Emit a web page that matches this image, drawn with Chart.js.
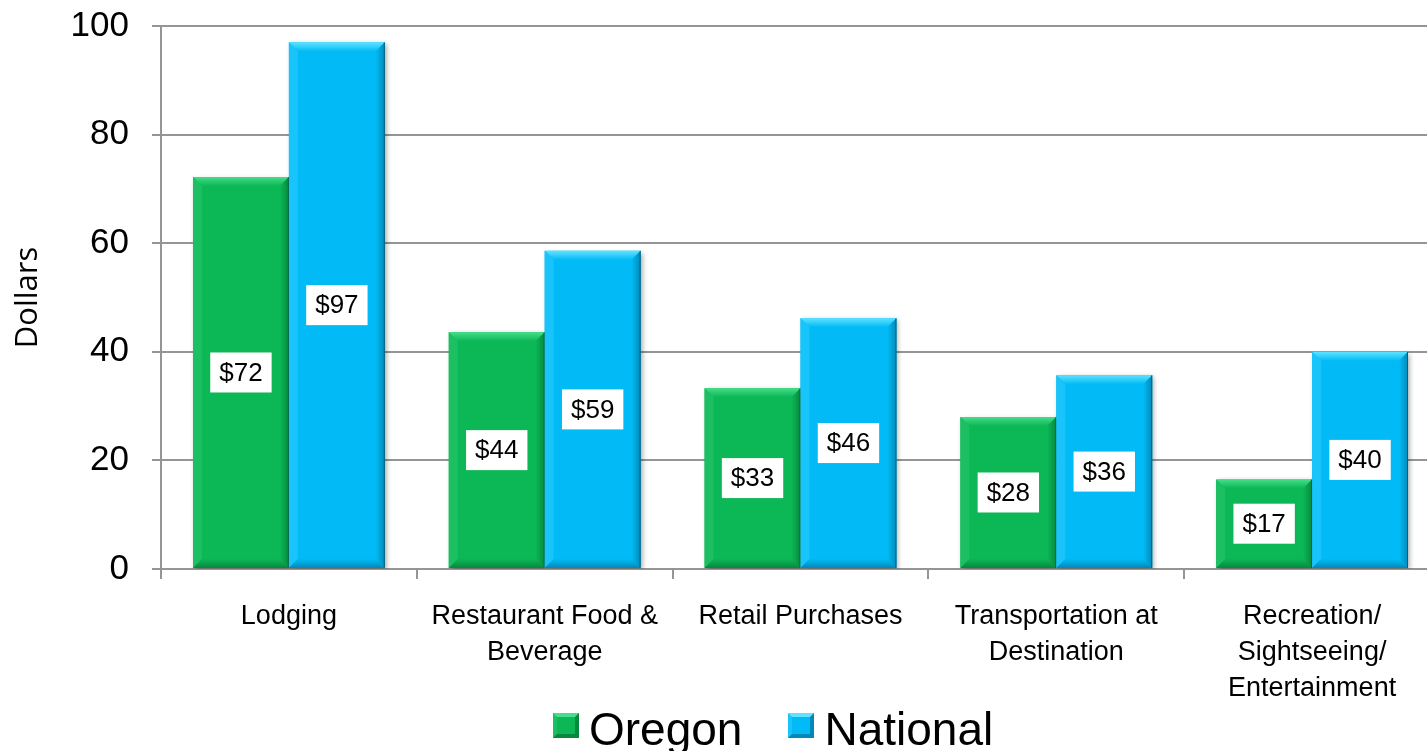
<!DOCTYPE html>
<html>
<head>
<meta charset="utf-8">
<script src="https://cdn.jsdelivr.net/npm/chart.js@4/dist/chart.umd.min.js"></script>
<style>
  html, body { margin: 0; padding: 0; background: #fff; overflow: hidden; }
  #wrap { position: relative; width: 1440px; height: 751px; }
  #legend { position: absolute; left: 553px; top: 706px; display: flex; font-family: "Liberation Sans", Arial, sans-serif; font-size: 46px; line-height: 46px; color: #000; }
  .item { display: flex; margin-right: 46px; }
  .box { width: 26px; height: 25px; margin-top: 7px; margin-right: 10px; box-sizing: border-box; }
</style>
</head>
<body>
<div id="wrap">
  <canvas id="myChart" width="1440" height="751"></canvas>
  <div id="legend"></div>
</div>
<script>
const categories = [
  'Lodging',
  ['Restaurant Food &', 'Beverage'],
  'Retail Purchases',
  ['Transportation at', 'Destination'],
  ['Recreation/', 'Sightseeing/', 'Entertainment']
];
const seriesNames = ['Oregon', 'National'];
const oregon = [72.2, 43.6, 33.3, 28.0, 16.5];
const national = [97.0, 58.6, 46.2, 35.7, 40.0];
const yTicks = [0, 20, 40, 60, 80, 100];

const green = { body: '#0cb755', top: '#45de8a', right: '#06893f', left: '#1cc063' };
const blue = { body: '#02bbf6', top: '#5fe3ff', right: '#0089b8', left: '#18c4fa' };

const ctx = document.getElementById('myChart').getContext('2d');

// bevel look + white value boxes
const barDecor = {
  id: 'barDecor',
  beforeDatasetsDraw(chart) {
    const c = chart.ctx;
    c.save();
    c.shadowColor = 'rgba(0,0,0,0.35)';
    c.shadowBlur = 5;
    c.shadowOffsetX = 2;
    c.shadowOffsetY = 2;
  },
  afterDatasetsDraw(chart) {
    const c = chart.ctx;
    c.restore();
    chart.data.datasets.forEach((ds, i) => {
      const pal = i == 0 ? green : blue;
      chart.getDatasetMeta(i).data.forEach((bar, j) => {
        const l = bar.x - bar.width / 2, r = bar.x + bar.width / 2;
        const t = bar.y, b = bar.base;
        const bv = 9;
        c.save();
        // top bevel
        let g = c.createLinearGradient(0, t, 0, t + bv);
        g.addColorStop(0, pal.top);
        g.addColorStop(1, pal.body);
        c.fillStyle = g;
        c.beginPath();
        c.moveTo(l, t); c.lineTo(r, t); c.lineTo(r - bv, t + bv); c.lineTo(l + bv, t + bv);
        c.closePath(); c.fill();
        // left bevel
        c.fillStyle = pal.left;
        c.beginPath();
        c.moveTo(l, t); c.lineTo(l + bv, t + bv); c.lineTo(l + bv, b - bv); c.lineTo(l, b);
        c.closePath(); c.fill();
        // right bevel
        g = c.createLinearGradient(r - bv, 0, r, 0);
        g.addColorStop(0, pal.body);
        g.addColorStop(1, pal.right);
        c.fillStyle = g;
        c.beginPath();
        c.moveTo(r, t); c.lineTo(r - bv, t + bv); c.lineTo(r - bv, b - bv); c.lineTo(r, b);
        c.closePath(); c.fill();
        // bottom bevel
        g = c.createLinearGradient(0, b - bv, 0, b);
        g.addColorStop(0, pal.body);
        g.addColorStop(1, pal.right);
        c.fillStyle = g;
        c.beginPath();
        c.moveTo(l, b); c.lineTo(l + bv, b - bv); c.lineTo(r - bv, b - bv); c.lineTo(r, b);
        c.closePath(); c.fill();
        c.strokeStyle = 'rgba(0,60,60,0.55)';
        c.lineWidth = 1;
        c.beginPath();
        c.moveTo(r - 0.5, t); c.lineTo(r - 0.5, b);
        c.stroke();
        c.restore();
      });
    });
    // value boxes
    c.save();
    c.font = '26px "Liberation Sans", Arial, sans-serif';
    c.textAlign = 'center';
    c.textBaseline = 'middle';
    chart.data.datasets.forEach((ds, i) => {
      chart.getDatasetMeta(i).data.forEach((bar, j) => {
        const txt = '$' + Math.round(ds.data[j]);
        const w = c.measureText(txt).width + 18;
        const h = 40;
        const cy = (bar.y + bar.base) / 2;
        c.fillStyle = '#fff';
        c.fillRect(bar.x - w / 2, cy - h / 2, w, h);
        c.fillStyle = '#000';
        c.fillText(txt, bar.x, cy + 1);
      });
    });
    c.restore();
  }
};

const myChart = new Chart(ctx, {
  type: 'bar',
  data: {
    labels: categories,
    datasets: [{
      label: seriesNames[0],
      data: oregon,
      backgroundColor: green.body,
      borderWidth: 0
    }, {
      label: seriesNames[1],
      data: national,
      backgroundColor: blue.body,
      borderWidth: 0
    }]
  },
  options: {
    responsive: false,
    animation: false,
    categoryPercentage: 0.75,
    barPercentage: 1.0,
    layout: { padding: { top: 26, right: 0, left: 0, bottom: 0 } },
    plugins: {
      legend: { display: false },
      tooltip: { enabled: false }
    },
    scales: {
      x: {
        grid: { display: true, drawOnChartArea: false, drawTicks: true, tickLength: 10, color: '#959595', lineWidth: 2, offset: true },
        border: { color: '#959595', width: 2 },
        ticks: {
          color: '#000',
          font: { family: '"Liberation Sans", Arial', size: 27, lineHeight: 1.33 },
          padding: 20,
          maxRotation: 0,
          autoSkip: false
        },
        afterFit(scale) { scale.height = 182; }
      },
      y: {
        min: 0,
        max: 100,
        afterBuildTicks(scale) { scale.ticks = yTicks.map(v => ({ value: v })); },
        grid: { color: '#959595', lineWidth: 2, tickLength: 9 },
        border: { color: '#959595', width: 2 },
        ticks: {
          color: '#000',
          font: { family: '"Liberation Sans", Arial', size: 35 },
          padding: 23
        },
        title: {
          display: true,
          text: 'Dollars',
          color: '#000',
          font: { family: '"Open Sans", sans-serif', size: 31 },
          padding: { top: 10, bottom: 0 }
        },
        afterFit(scale) {
          scale.width = 161;
          scale.paddingTop = 0;
          scale.paddingBottom = 0;
        }
      }
    }
  },
  plugins: [barDecor]
});

// legend in html below the chart
const legend = document.getElementById('legend');
seriesNames.forEach((name, i) => {
  const pal = i == 0 ? green : blue;
  const item = document.createElement('div');
  item.className = 'item';
  const box = document.createElement('div');
  box.className = 'box';
  box.style.background = pal.body;
  box.style.border = '4px solid';
  box.style.borderColor = pal.top + ' ' + pal.right + ' ' + pal.right + ' ' + pal.left;
  const txt = document.createElement('span');
  txt.textContent = name;
  item.appendChild(box);
  item.appendChild(txt);
  legend.appendChild(item);
});
</script>
</body>
</html>
